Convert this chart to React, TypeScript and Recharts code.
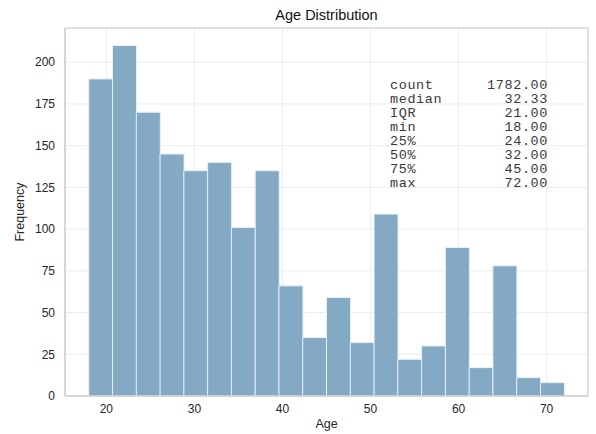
import React from "react";
import {
  BarChart,
  Bar,
  XAxis,
  YAxis,
  CartesianGrid,
  ReferenceArea,
} from "recharts";

// histogram of ages, 20 bins from 18 to 72
const binMin = 18;
const binMax = 72;
const counts = [190, 210, 170, 145, 135, 140, 101, 135, 66, 35, 59, 32, 109, 22, 30, 89, 17, 78, 11, 8];
const xTicks = [20, 30, 40, 50, 60, 70];
const yTicks = [0, 25, 50, 75, 100, 125, 150, 175, 200];
const statLabels = ["count", "median", "IQR", "min", "25%", "50%", "75%", "max"];
const statValues = ["1782.00", "32.33", "21.00", "18.00", "24.00", "32.00", "45.00", "72.00"];

const binWidth = (binMax - binMin) / counts.length;
const data = counts.map((c, i) => ({ age: binMin + binWidth * (i + 0.5), count: c }));

const pad = (binMax - binMin) * 0.05;
const xDomain = [binMin - pad, binMax + pad];
const yDomain = [0, 210 * 1.05];

const font = "'Liberation Sans', Arial, sans-serif";
const textColor = "#262626";

const App = () => {
  return (
    <div style={{ position: "absolute", left: 0, top: 0, width: 596, height: 434, background: "#fff", fontFamily: font }}>
      <div style={{ position: "absolute", left: 65, width: 523, top: 7, textAlign: "center", fontSize: 14.5, color: "#111" }}>
        Age Distribution
      </div>
      <div style={{ position: "absolute", left: 65, width: 523, top: 417, textAlign: "center", fontSize: 12.5, color: textColor }}>
        Age
      </div>
      <div
        style={{
          position: "absolute",
          left: 20,
          top: 212,
          transform: "translate(-50%, -50%) rotate(-90deg)",
          fontSize: 12.5,
          color: textColor,
          whiteSpace: "nowrap",
        }}
      >
        Frequency
      </div>
      <BarChart
        width={596}
        height={434}
        data={data}
        margin={{ top: 28, right: 8, bottom: 0, left: 0 }}
        barCategoryGap={0}
        barGap={0}
      >
        <CartesianGrid stroke="#ececec" strokeWidth={1} />
        <XAxis
          dataKey="age"
          type="number"
          domain={xDomain}
          allowDataOverflow
          ticks={xTicks}
          height={38}
          tickLine={false}
          axisLine={{ stroke: "#cccccc" }}
          tick={{ fill: textColor, fontSize: 12, fontFamily: font }}
        />
        <YAxis
          type="number"
          domain={yDomain}
          allowDataOverflow
          ticks={yTicks}
          width={65}
          tickLine={false}
          tickMargin={4}
          axisLine={{ stroke: "#cccccc" }}
          tick={{ fill: textColor, fontSize: 12, fontFamily: font }}
        />
        <ReferenceArea
          x1={xDomain[0]}
          x2={xDomain[1]}
          y1={yDomain[0]}
          y2={yDomain[1]}
          fill="none"
          stroke="#cccccc"
          strokeWidth={1}
          ifOverflow="visible"
        />
        <Bar dataKey="count" fill="#84a9c5" stroke="#e8f0f6" strokeWidth={1} isAnimationActive={false} />
      </BarChart>
      <div
        style={{
          position: "absolute",
          left: 390,
          top: 79,
          width: 158,
          fontFamily: "'Liberation Mono', 'Courier New', monospace",
          fontSize: 13.5,
          lineHeight: "14px",
          letterSpacing: 0.6,
          color: "#3a3a3a",
        }}
      >
        {statLabels.map((l, i) => (
          <div key={l} style={{ display: "flex", justifyContent: "space-between", height: 14 }}>
            <span>{l}</span>
            <span>{statValues[i]}</span>
          </div>
        ))}
      </div>
    </div>
  );
};

export default App;
